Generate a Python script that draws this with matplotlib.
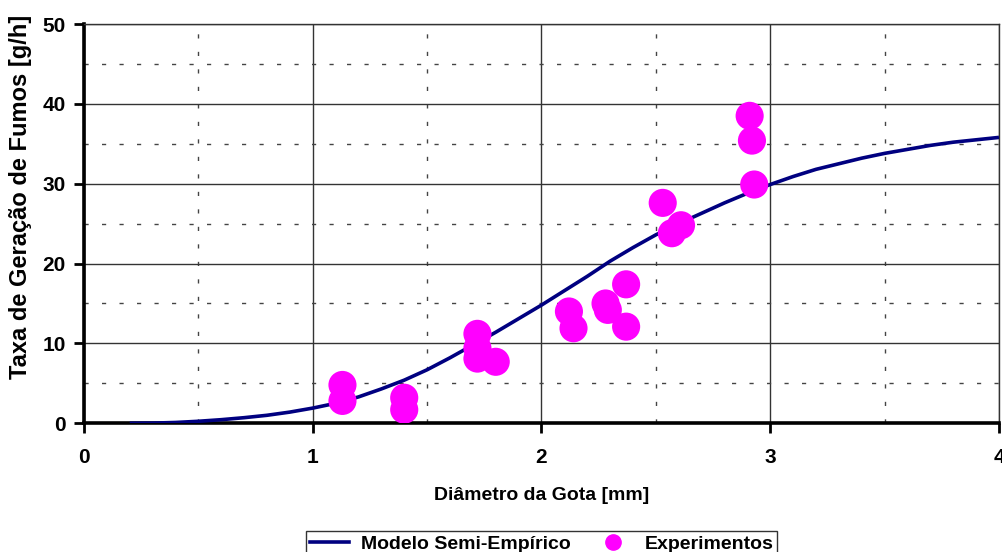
import matplotlib
matplotlib.use("Agg")
import matplotlib.pyplot as plt
from matplotlib.lines import Line2D

plt.rcParams['font.family'] = ['Liberation Sans', 'DejaVu Sans']
plt.rcParams['font.weight'] = 'bold'

# Semi-empirical model curve (droplet diameter [mm] -> fume generation rate [g/h])
model_d = [0.2, 0.3, 0.4, 0.5, 0.6, 0.7, 0.8, 0.9, 1.0, 1.1, 1.2, 1.3, 1.4,
           1.5, 1.6, 1.7, 1.8, 1.9, 2.0, 2.1, 2.2, 2.3, 2.4, 2.5, 2.6, 2.7,
           2.8, 2.9, 3.0, 3.1, 3.2, 3.3, 3.4, 3.5, 3.6, 3.7, 3.8, 3.9, 4.0]
model_rate = [0.0, 0.02, 0.1, 0.25, 0.45, 0.7, 1.0, 1.4, 1.9, 2.5, 3.3, 4.3,
              5.4, 6.7, 8.2, 9.8, 11.4, 13.1, 14.8, 16.6, 18.4, 20.3, 22.0,
              23.6, 25.0, 26.3, 27.6, 28.8, 29.9, 30.9, 31.8, 32.5, 33.2,
              33.8, 34.3, 34.8, 35.2, 35.5, 35.8]

# Experimental measurements
exp_d = [1.13, 1.13, 1.40, 1.40, 1.72, 1.72, 1.72, 1.80,
         2.12, 2.14, 2.28, 2.29, 2.37, 2.37,
         2.53, 2.57, 2.61, 2.91, 2.92, 2.93]
exp_rate = [4.8, 2.8, 3.2, 1.7, 11.2, 9.4, 8.1, 7.7,
            14.0, 11.9, 15.0, 14.2, 17.4, 12.1,
            27.6, 23.8, 24.8, 38.5, 35.4, 29.9]

x_ticks = [0, 1, 2, 3, 4]
y_ticks = [0, 10, 20, 30, 40, 50]

fig = plt.figure(figsize=(10.02, 5.52), dpi=100)
ax = fig.add_axes([0.0838, 0.2332, 0.9132, 0.7233])

ax.set_xlim(0, 4)
ax.set_ylim(0, 50)
ax.set_xticks(x_ticks)
ax.set_yticks(y_ticks)
ax.set_xticks([0.5, 1.5, 2.5, 3.5], minor=True)
ax.set_yticks([5, 15, 25, 35, 45], minor=True)

# grid: solid at major, dotted at minor
ax.grid(which='major', color='#333333', linewidth=1.0, linestyle='-', zorder=0)
ax.grid(which='minor', color='#444444', linewidth=1.0, linestyle=(0, (3, 9.6)), zorder=0)
ax.set_axisbelow(True)

ax.plot(model_d, model_rate, color='#000080', linewidth=2.6, zorder=3,
        solid_capstyle='butt')
ax.scatter(exp_d, exp_rate, s=410, color='#FF00FF', edgecolors='none', zorder=4)

for side in ('left', 'bottom'):
    ax.spines[side].set_linewidth(2.6)
    ax.spines[side].set_color('black')
for side in ('right', 'top'):
    ax.spines[side].set_linewidth(1.0)
    ax.spines[side].set_color('#333333')

ax.tick_params(which='major', direction='out', length=7, width=2, labelsize=15)
ax.tick_params(axis='x', which='major', pad=11)
ax.tick_params(axis='y', which='major', pad=6)
ax.tick_params(which='minor', length=0)
for lbl in ax.get_xticklabels() + ax.get_yticklabels():
    lbl.set_fontweight('bold')

ax.set_xlabel('Diâmetro da Gota [mm]', fontsize=14, fontweight='bold', labelpad=14)
ax.set_ylabel('Taxa de Geração de Fumos [g/h]', fontsize=17, fontweight='bold')
ax.yaxis.set_label_coords(-0.057, 0.567)

handles = [
    Line2D([], [], color='#000080', linewidth=2.6, label='Modelo Semi-Empírico'),
    Line2D([], [], color='#FF00FF', marker='o', linestyle='none', markersize=11,
           label='Experimentos'),
]
leg = fig.legend(handles=handles, loc='upper center', bbox_to_anchor=(0.5406, 0.055),
                 ncol=2, frameon=True, fancybox=False, framealpha=1,
                 prop={'weight': 'bold', 'size': 14}, handlelength=2.0,
                 columnspacing=1.2, handletextpad=0.6, borderpad=0.2)
leg.get_frame().set_edgecolor('#333333')
leg.get_frame().set_linewidth(1.0)

fig.savefig('out.png', dpi=100)
